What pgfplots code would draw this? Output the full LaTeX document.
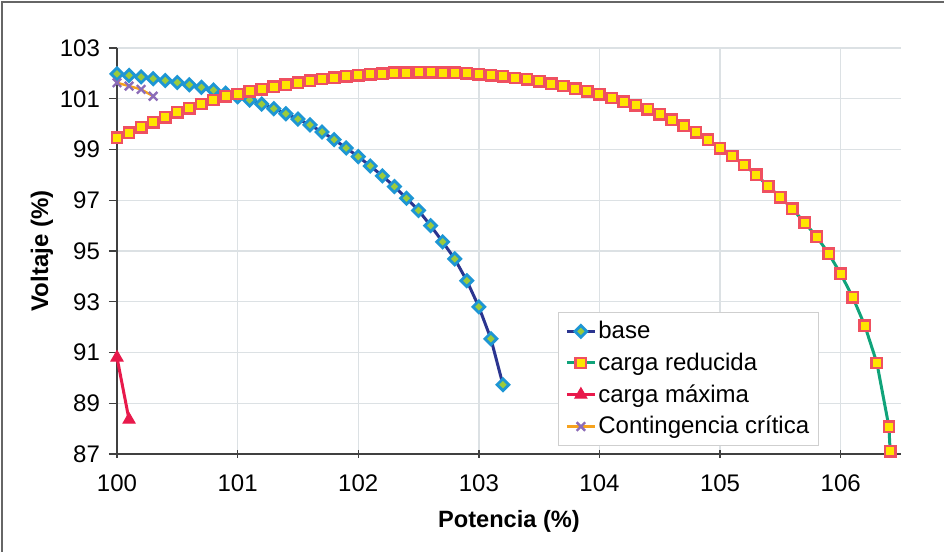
\documentclass[border=0pt]{standalone}
\usepackage{fontspec}
\setmainfont{Liberation Sans}
\usepackage{pgfplots}
\pgfplotsset{compat=1.18}
\definecolor{baseline}{HTML}{2B3590}
\definecolor{basedraw}{HTML}{1E96D4}
\definecolor{basefill}{HTML}{9CCB3B}
\definecolor{redline}{HTML}{10A37A}
\definecolor{reddraw}{HTML}{EF5060}
\definecolor{redfill}{HTML}{FFE500}
\definecolor{maxline}{HTML}{E8194B}
\definecolor{contline}{HTML}{F6A21E}
\definecolor{contmark}{HTML}{8C6CB8}
\definecolor{gridc}{HTML}{DCE1E4}
\definecolor{legc}{HTML}{CFCFCF}
\begin{document}
\begin{tikzpicture}
\useasboundingbox (0,0) rectangle (472pt,276pt);
\draw[black!60, line width=0.9pt] (0.9pt,0) -- (0.9pt,275.1pt) -- (472pt,275.1pt);
\begin{axis}[
  at={(58.5pt,49pt)}, anchor=south west,
  scale only axis, width=392pt, height=203pt,
  xmin=100, xmax=106.5, ymin=87, ymax=103,
  xtick={100,...,106}, ytick={87,89,...,103},
  grid=major, grid style={draw=gridc, line width=0.7pt},
  axis x line*=bottom, axis y line*=left,
  axis line style={draw=black!75, line width=0.7pt},
  tick style={draw=black!75, line width=0.7pt},
  major tick length=4pt,
  xtick align=center, ytick align=outside,
  /pgf/number format/assume math mode=true,
  ticklabel style={font=\fontsize{12}{14}\selectfont},
  xticklabel style={yshift=-5pt},
  yticklabel style={xshift=-1pt},
  clip=false,
  xlabel={Potencia (\%)}, ylabel={Voltaje (\%)},
  xlabel style={at={(axis description cs:0.5,-0.165)}, anchor=center, font=\fontsize{11.8}{14}\selectfont\bfseries},
  ylabel style={at={(axis description cs:-0.0957,0.5)}, anchor=center, font=\fontsize{12}{14}\selectfont\bfseries},
  legend image code/.code={\draw[mark repeat=2,mark phase=2,#1] plot coordinates {(0pt,0pt)(7pt,0pt)(14pt,0pt)};},
  legend style={at={(0.5625,0.3498)}, anchor=north west, draw=legc, fill=white,
    font=\fontsize{12}{14}\selectfont, row sep=3.6pt, inner xsep=3.5pt, inner ysep=3.4pt,
    nodes={inner sep=1pt}},
  legend cell align=left,
]
\addplot[color=baseline, line width=1.5pt, mark=square*, mark size=2.1pt,
  mark options={draw=basedraw, fill=basefill, line width=1.4pt, rotate=45}] coordinates {
(100.0,101.98) (100.1,101.92) (100.2,101.86) (100.3,101.79) (100.4,101.72)
(100.5,101.64) (100.6,101.55) (100.7,101.45) (100.8,101.34) (100.9,101.22)
(101.0,101.08) (101.1,100.95) (101.2,100.79) (101.3,100.61) (101.4,100.41)
(101.5,100.20) (101.6,99.97) (101.7,99.69) (101.8,99.39) (101.9,99.06)
(102.0,98.72) (102.1,98.35) (102.2,97.96) (102.3,97.54) (102.4,97.08)
(102.5,96.60) (102.6,96.00) (102.7,95.36) (102.8,94.69) (102.9,93.83)
(103.0,92.80) (103.1,91.54) (103.2,89.73)
};
\addlegendentry{base}
\addplot[color=redline, line width=1.5pt, mark=square*, mark size=2.6pt,
  mark options={draw=reddraw, fill=redfill, line width=1.2pt}] coordinates {
(100.0,99.47) (100.1,99.66) (100.2,99.87) (100.3,100.07) (100.4,100.27)
(100.5,100.46) (100.6,100.62) (100.7,100.79) (100.8,100.95) (100.9,101.09)
(101.0,101.19) (101.1,101.29) (101.2,101.38) (101.3,101.47) (101.4,101.56)
(101.5,101.64) (101.6,101.71) (101.7,101.78) (101.8,101.83) (101.9,101.88)
(102.0,101.92) (102.1,101.96) (102.2,101.99) (102.3,102.02) (102.4,102.03)
(102.5,102.04) (102.6,102.04) (102.7,102.03) (102.8,102.02) (102.9,102.00)
(103.0,101.97) (103.1,101.93) (103.2,101.88) (103.3,101.82) (103.4,101.76)
(103.5,101.69) (103.6,101.60) (103.7,101.50) (103.8,101.40) (103.9,101.30)
(104.0,101.17) (104.1,101.03) (104.2,100.89) (104.3,100.74) (104.4,100.58)
(104.5,100.39) (104.6,100.17) (104.7,99.94) (104.8,99.67) (104.9,99.38)
(105.0,99.05) (105.1,98.74) (105.2,98.39) (105.3,98.00) (105.4,97.55)
(105.5,97.12) (105.6,96.66) (105.7,96.12) (105.8,95.57) (105.9,94.90)
(106.0,94.10) (106.1,93.18) (106.2,92.06) (106.3,90.59) (106.4,88.07)
(106.41,87.10)
};
\addlegendentry{carga reducida}
\addplot[color=maxline, line width=1.5pt, mark=triangle*, mark size=3.5pt,
  mark options={draw=maxline, fill=maxline, line width=0.5pt}] coordinates {
(100.0,90.80) (100.1,88.35)
};
\addlegendentry{carga máxima}
\addplot[color=contline, line width=1.2pt, mark=x, mark size=3pt,
  mark options={draw=contmark, line width=1.2pt}] coordinates {
(100.0,101.63) (100.1,101.50) (100.2,101.37) (100.3,101.10)
};
\addlegendentry{Contingencia crítica}
\end{axis}
\end{tikzpicture}
\end{document}
